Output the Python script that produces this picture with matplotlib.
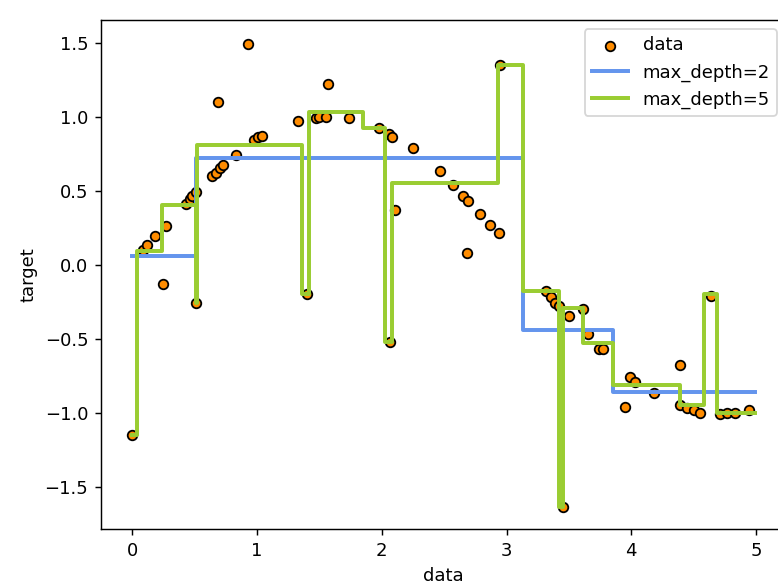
#!/usr/bin/env python3
"""Decision tree regression: noisy samples and two step-function fits."""

import matplotlib

matplotlib.use("Agg")
import matplotlib.pyplot as plt

# samples
data_x = [0.00, 0.09, 0.12, 0.18, 0.25, 0.27, 0.43, 0.46, 0.48, 0.51, 0.51,
          0.64, 0.67, 0.70, 0.69, 0.73, 0.83, 0.93, 0.98, 1.01, 1.04, 1.33,
          1.40, 1.47, 1.50, 1.55, 1.57, 1.74, 1.98, 2.06, 2.08, 2.07, 2.11,
          2.25, 2.47, 2.57, 2.65, 2.69, 2.68, 2.79, 2.87, 2.94, 2.95, 3.32,
          3.36, 3.39, 3.42, 3.45, 3.50, 3.61, 3.65, 3.74, 3.77, 3.95, 3.99,
          4.03, 4.18, 4.39, 4.39, 4.45, 4.50, 4.55, 4.64, 4.71, 4.77, 4.83,
          4.94]
data_y = [-1.15, 0.10, 0.13, 0.19, -0.13, 0.26, 0.41, 0.44, 0.46, 0.49, -0.26,
          0.60, 0.62, 0.65, 1.10, 0.67, 0.74, 1.49, 0.84, 0.86, 0.87, 0.97,
          -0.20, 0.99, 1.00, 1.00, 1.22, 0.99, 0.92, 0.88, 0.86, -0.52, 0.37,
          0.79, 0.63, 0.54, 0.46, 0.43, 0.08, 0.34, 0.27, 0.21, 1.35, -0.18,
          -0.22, -0.26, -0.28, -1.64, -0.35, -0.30, -0.47, -0.57, -0.57, -0.96,
          -0.76, -0.79, -0.87, -0.68, -0.95, -0.97, -0.98, -1.00, -0.21, -1.01,
          -1.00, -1.00, -0.98]

# tree predictions as piecewise-constant steps (left edge, value)
x_end = 4.99
depth2_edges = [0.00, 0.51, 3.13, 3.85]
depth2_values = [0.06, 0.72, -0.44, -0.86]
depth5_edges = [0.00, 0.04, 0.24, 0.51, 0.52, 1.36, 1.42, 1.85, 2.03, 2.08,
                2.93, 3.13, 3.42, 3.45, 3.61, 3.85, 4.39, 4.58, 4.69]
depth5_values = [-1.15, 0.09, 0.40, -0.26, 0.81, -0.20, 1.03, 0.92, -0.52, 0.55,
                 1.35, -0.18, -1.64, -0.29, -0.53, -0.81, -0.95, -0.20, -1.00]


def steps(edges, values):
    return edges + [x_end], values + [values[-1]]


fig = plt.figure(figsize=(778 / 130, 584 / 130), dpi=130)
ax = fig.add_axes([101 / 778, 1 - 529 / 584, (786 - 101) / 778, (529 - 20) / 584])

ax.scatter(data_x, data_y, s=28, edgecolor="black", c="darkorange", label="data")
sx, sy = steps(depth2_edges, depth2_values)
ax.step(sx, sy, where="post", color="cornflowerblue", label="max_depth=2", linewidth=2.2)
sx, sy = steps(depth5_edges, depth5_values)
ax.step(sx, sy, where="post", color="yellowgreen", label="max_depth=5", linewidth=2.2)

ax.set_xlim(-0.25, 5.24)
ax.set_ylim(-1.786, 1.652)
ax.set_xlabel("data")
ax.set_ylabel("target")
ax.legend(loc="upper right")

fig.savefig("out.png", dpi=130)
